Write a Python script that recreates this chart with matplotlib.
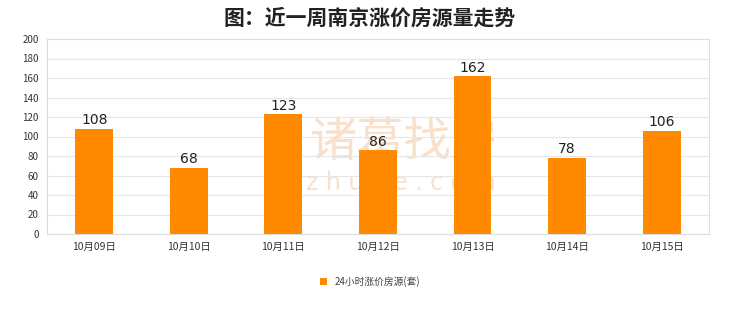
import matplotlib
matplotlib.use("Agg")
import matplotlib.pyplot as plt
from matplotlib.patches import Patch

plt.rcParams['font.family'] = ['Noto Sans CJK SC', 'DejaVu Sans']

title = "图：近一周南京涨价房源量走势"
dates = ["10月09日", "10月10日", "10月11日", "10月12日", "10月13日", "10月14日", "10月15日"]
counts = [108, 68, 123, 86, 162, 78, 106]
series_name = "24小时涨价房源(套)"
y_ticks = list(range(0, 201, 20))

bar_color = "#FF8A00"

fig = plt.figure(figsize=(7.4, 3.12), dpi=100)
ax = fig.add_axes([0.0635, 0.25, 0.8945, 0.625])

x = list(range(len(dates)))
bars = ax.bar(x, counts, width=0.4, color=bar_color, zorder=3)
for xi, v in zip(x, counts):
    ax.text(xi, v + 1.5, str(v), ha='center', va='bottom', fontsize=10,
            color='#222222', zorder=4, family=['DejaVu Sans'])

ax.set_xlim(-0.5, len(dates) - 0.5)
ax.set_ylim(0, 200)
ax.set_yticks(y_ticks)
ax.set_yticklabels([str(t) for t in y_ticks], fontsize=7, color='#333333')
ax.set_xticks(x)
ax.set_xticklabels(dates, fontsize=7.5, color='#333333')
ax.tick_params(axis='both', length=0, pad=6)
ax.grid(axis='y', color='#e6e6e6', linewidth=0.8, zorder=0)
for s in ax.spines.values():
    s.set_color('#dddddd')
    s.set_linewidth(0.8)

# faint brand watermark behind the bars
ax.text(0.54, 0.47, "诸葛找房", transform=ax.transAxes, ha='center', va='center',
        fontsize=34, color='#f9e0cb', zorder=1)
ax.text(0.535, 0.26, "z h u g e . c o m", transform=ax.transAxes, ha='center', va='center',
        fontsize=17, color='#f9e0cb', zorder=1, family=['DejaVu Sans'])

fig.suptitle(title, y=0.975, fontsize=15, fontweight='bold', color='#222222')

fig.legend(handles=[Patch(facecolor=bar_color)], labels=[series_name],
           loc='center', bbox_to_anchor=(0.5, 0.097), frameon=False,
           fontsize=7, handlelength=0.7, handleheight=0.7, handletextpad=0.8,
           labelcolor='#444444')

fig.savefig("out.png", dpi=100, facecolor='white')
